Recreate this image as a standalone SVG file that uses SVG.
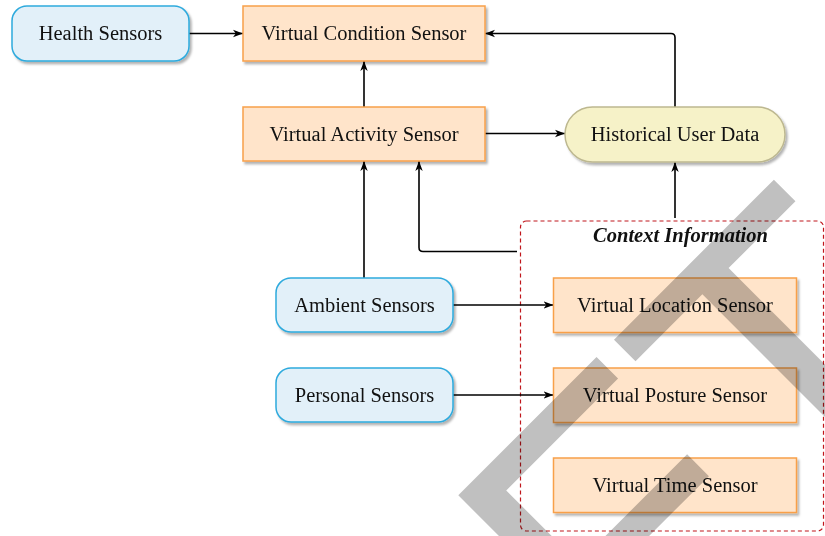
<svg xmlns="http://www.w3.org/2000/svg" width="825" height="536" viewBox="0 0 825 536">
  <defs>
    <filter id="sh" x="-10%" y="-20%" width="125%" height="150%">
      <feDropShadow dx="2" dy="2.5" stdDeviation="1" flood-color="#000" flood-opacity="0.3"/>
    </filter>
    <marker id="arr" markerWidth="11" markerHeight="9" refX="10" refY="4.5" orient="auto" markerUnits="userSpaceOnUse">
      <path d="M0,0.8 L10,4.5 L0,8.2 L2.8,4.5 Z" fill="#000"/>
    </marker>
    <style>
      .lbl { font-family: "Liberation Serif", "Times New Roman", serif; font-size: 20.5px; fill: #111; text-anchor: middle; }
      .blue { fill: #e2f0f9; stroke: #2eaadd; stroke-width: 1.5; filter: url(#sh); }
      .orange { fill: #ffe4ca; stroke: #f8a04a; stroke-width: 1.5; filter: url(#sh); }
      .yellow { fill: #f6f2c8; stroke: #bdb890; stroke-width: 1.5; filter: url(#sh); }
      .conn { fill: none; stroke: #000; stroke-width: 1.6; marker-end: url(#arr); }
      .ctx { fill: none; stroke: #c0161c; stroke-width: 1.2; stroke-dasharray: 4 3; }
      .ctxlbl { font-family: "Liberation Serif", "Times New Roman", serif; font-size: 20.5px; font-style: italic; font-weight: bold; fill: #111; text-anchor: middle; }
      .wm { font-family: "Liberation Sans", Arial, sans-serif; font-size: 400px; fill: #c0c0c0; mix-blend-mode: multiply; }
    </style>
  </defs>

  <g id="context-information">
    <rect class="ctx" x="520.5" y="221" width="303" height="310" rx="6"/>
    <text class="ctxlbl" x="680.5" y="241.5">Context Information</text>
  </g>

  <g id="connectors">
    <path class="conn" d="M189,33.5 H243"/>
    <path class="conn" d="M364,107 V61"/>
    <path class="conn" d="M675,107 V37.5 Q675,33.5 671,33.5 H485"/>
    <path class="conn" d="M485,133.5 H565"/>
    <path class="conn" d="M364,278 V161"/>
    <path class="conn" d="M517,251.5 H423 Q419,251.5 419,247.5 V161"/>
    <path class="conn" d="M675,218 V162"/>
    <path class="conn" d="M453,305 H553.5"/>
    <path class="conn" d="M453,395 H553.5"/>
  </g>

  <g id="health-sensors">
    <rect class="blue" x="12" y="6" width="177" height="55" rx="15"/>
    <text class="lbl" x="100.5" y="40">Health Sensors</text>
  </g>
  <g id="virtual-condition-sensor">
    <rect class="orange" x="243" y="6" width="242" height="55"/>
    <text class="lbl" x="364" y="40">Virtual Condition Sensor</text>
  </g>
  <g id="virtual-activity-sensor">
    <rect class="orange" x="243" y="107" width="242" height="54"/>
    <text class="lbl" x="364" y="140.5">Virtual Activity Sensor</text>
  </g>
  <g id="historical-user-data">
    <rect class="yellow" x="565" y="107" width="220" height="55" rx="27.5"/>
    <text class="lbl" x="675" y="141">Historical User Data</text>
  </g>
  <g id="ambient-sensors">
    <rect class="blue" x="276" y="278" width="177" height="54" rx="15"/>
    <text class="lbl" x="364.5" y="312">Ambient Sensors</text>
  </g>
  <g id="personal-sensors">
    <rect class="blue" x="276" y="368" width="177" height="54" rx="15"/>
    <text class="lbl" x="364.5" y="402">Personal Sensors</text>
  </g>
  <g id="virtual-location-sensor">
    <rect class="orange" x="553.5" y="278" width="243" height="54.5"/>
    <text class="lbl" x="675" y="312">Virtual Location Sensor</text>
  </g>
  <g id="virtual-posture-sensor">
    <rect class="orange" x="553.5" y="368" width="243" height="54.5"/>
    <text class="lbl" x="675" y="402">Virtual Posture Sensor</text>
  </g>
  <g id="virtual-time-sensor">
    <rect class="orange" x="553.5" y="458" width="243" height="54.5"/>
    <text class="lbl" x="675" y="492">Virtual Time Sensor</text>
  </g>

  <g id="watermark" transform="rotate(-45)">
    <text class="wm" x="-904 -615 -326 -59 185" y="949.5">DRAFT</text>
  </g>
</svg>
